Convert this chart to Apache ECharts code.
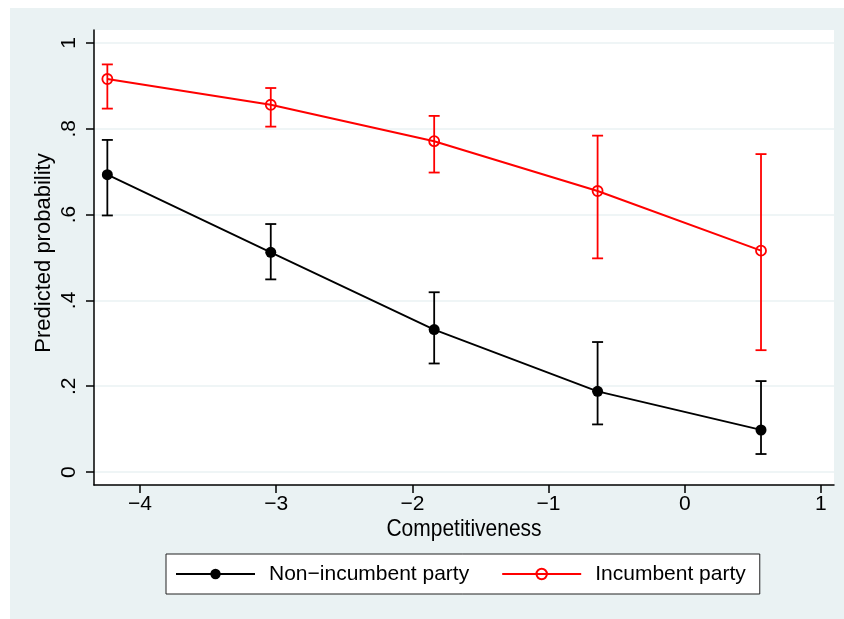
<!DOCTYPE html>
<html>
<head>
<meta charset="utf-8">
<script src="https://cdn.jsdelivr.net/npm/echarts@6/dist/echarts.min.js"></script>
<style>
html,body{margin:0;padding:0;background:#fff;}
#chart{width:844px;height:619px;}
</style>
</head>
<body>
<div id="chart"></div>
<script>
// ---- data ----
const competitiveness = [-4.24, -3.04, -1.84, -0.64, 0.56];
const nonIncMean  = [0.693, 0.512, 0.332, 0.188, 0.098];
const nonIncLower = [0.598, 0.449, 0.253, 0.111, 0.042];
const nonIncUpper = [0.774, 0.578, 0.419, 0.303, 0.212];
const incMean  = [0.916, 0.856, 0.771, 0.655, 0.516];
const incLower = [0.847, 0.805, 0.698, 0.498, 0.284];
const incUpper = [0.950, 0.895, 0.830, 0.784, 0.741];
const xTicks = [-4, -3, -2, -1, 0, 1];
const yTicks = [0, 0.2, 0.4, 0.6, 0.8, 1];
const seriesNames = ['Non\u2212incumbent party', 'Incumbent party'];

const FONT = 'Liberation Sans, Arial, Helvetica, sans-serif';
const BG = '#EAF2F3';

function pairs(xs, ys){ return xs.map((x,i)=>[x, ys[i]]); }
function bars(xs, lo, hi){ return xs.map((x,i)=>[x, lo[i], hi[i]]); }
function fmtX(v){ return v < 0 ? '\u2212' + Math.abs(v) : String(v); }
function fmtY(v){ if (v === 0) return '0'; if (v === 1) return '1'; return String(v).replace(/^0/, ''); }

function barRenderer(color){
  return function(params, api){
    const x = api.value(0), lo = api.value(1), hi = api.value(2);
    const a = api.coord([x, lo]), b = api.coord([x, hi]);
    const hw = 5.5;
    const st = {stroke: color, lineWidth: 1.8, fill: null};
    return {type:'group', children:[
      {type:'line', shape:{x1:a[0], y1:a[1], x2:b[0], y2:b[1]}, style:st},
      {type:'line', shape:{x1:a[0]-hw, y1:a[1], x2:a[0]+hw, y2:a[1]}, style:st},
      {type:'line', shape:{x1:b[0]-hw, y1:b[1], x2:b[0]+hw, y2:b[1]}, style:st}
    ]};
  };
}

const chart = echarts.init(document.getElementById('chart'), null, {renderer:'canvas'});
chart.setOption({
  animation:false,
  backgroundColor:'#fff',
  textStyle:{fontFamily:FONT},
  graphic:[
    {type:'rect', z:-2, shape:{x:10, y:8, width:834, height:611}, style:{fill:BG}},
    {type:'rect', z:-1, shape:{x:94, y:30, width:740, height:455}, style:{fill:'#fff'}},
    {type:'text', x:464, y:530, scaleY:1.1, style:{text:'Competitiveness', font:'21px ' + FONT, fill:'#000', align:'center', verticalAlign:'middle'}},
    {type:'text', rotation:Math.PI/2, x:44, y:253, style:{text:'Predicted probability', font:'22px ' + FONT, fill:'#000', align:'center', verticalAlign:'middle'}}
  ],
  grid:{left:94, top:30, right:10, bottom:134, containLabel:false},
  xAxis:{
    type:'value', min:-4.338, max:1.096,
    axisLine:{show:true, onZero:false, lineStyle:{color:'#000', width:1.5}},
    axisTick:{show:true, length:8, customValues:xTicks, lineStyle:{color:'#000', width:1.5}},
    axisLabel:{customValues:xTicks, formatter:fmtX, fontSize:21, color:'#000', margin:9, fontFamily:FONT},
    splitLine:{show:false}
  },
  yAxis:{
    type:'value', min:-0.0302, max:1.0302,
    axisLine:{show:true, onZero:false, lineStyle:{color:'#000', width:1.5}},
    axisTick:{show:true, length:8, customValues:yTicks, lineStyle:{color:'#000', width:1.5}},
    axisLabel:{customValues:yTicks, formatter:fmtY, fontSize:21, color:'#000', margin:14, rotate:90, fontFamily:FONT},
    splitLine:{show:true, lineStyle:{color:BG, width:1.5}}
  },
  legend:{
    data:seriesNames,
    left:166, top:554,
    orient:'horizontal',
    backgroundColor:'#fff', borderColor:'#222', borderWidth:1,
    padding:[8,14,8,9],
    itemWidth:79, itemHeight:13, itemGap:32,
    textStyle:{fontSize:21, color:'#000', fontFamily:FONT, padding:[0,0,0,9], lineHeight:24},
    selectedMode:false
  },
  series:[
    {type:'custom', name:'nonIncCI', renderItem:barRenderer('#000'), data:bars(competitiveness, nonIncLower, nonIncUpper), z:2, silent:true},
    {type:'custom', name:'incCI', renderItem:barRenderer('#ff0000'), data:bars(competitiveness, incLower, incUpper), z:2, silent:true},
    {type:'line', name:seriesNames[0], data:pairs(competitiveness, nonIncMean), z:3,
     symbol:'circle', symbolSize:11, lineStyle:{color:'#000', width:1.8},
     itemStyle:{color:'#000', borderColor:'#000', borderWidth:0}},
    {type:'line', name:seriesNames[1], data:pairs(competitiveness, incMean), z:3,
     symbol:'circle', symbolSize:10, lineStyle:{color:'#ff0000', width:2},
     itemStyle:{color:'rgba(255,255,255,0)', borderColor:'#ff0000', borderWidth:1.8}}
  ]
});
</script>
</body>
</html>
